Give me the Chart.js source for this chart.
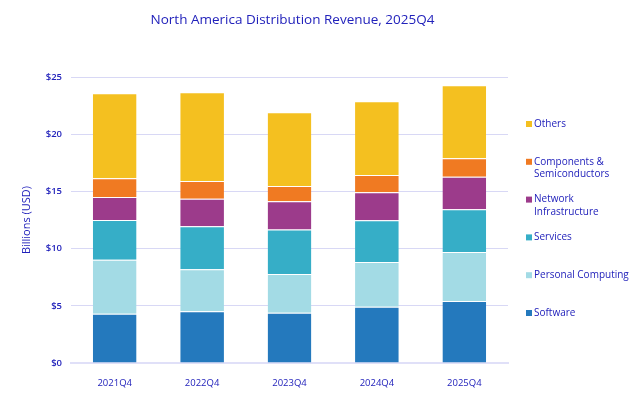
<!DOCTYPE html>
<html>
<head>
<meta charset="utf-8">
<script src="https://cdn.jsdelivr.net/npm/chart.js@4"></script>
<style>
  html, body { margin: 0; padding: 0; background: #fff; }
  #wrap { width: 639px; height: 411px; position: relative; }
</style>
</head>
<body>
<div id="wrap"><canvas id="barchart"></canvas></div>
<script>
// Data
var quarters = ['2021Q4', '2022Q4', '2023Q4', '2024Q4', '2025Q4'];
var software = [4.31, 4.52, 4.40, 4.92, 5.42];
var personalComputing = [4.72, 3.67, 3.38, 3.91, 4.28];
var services = [3.47, 3.76, 3.90, 3.64, 3.73];
var network = [2.01, 2.41, 2.45, 2.45, 2.86];
var components = [1.63, 1.55, 1.34, 1.51, 1.60];
var others = [7.43, 7.75, 6.44, 6.44, 6.38];
var yTicks = [0, 5, 10, 15, 20, 25];

var textColor = '#2222bb';
var font = '"Open Sans", "Noto Sans", sans-serif';

function ds(label, values, color) {
  return {
    label: label,
    data: values,
    backgroundColor: color,
    borderColor: 'rgba(255,255,255,0.35)',
    borderWidth: { top: 1 },
    borderSkipped: false,
    categoryPercentage: 1,
    barPercentage: 0.5
  };
}

var datasets = [
  ds('Software', software, '#2479bd'),
  ds('Personal Computing', personalComputing, '#a3dbe5'),
  ds('Services', services, '#36aec7'),
  ds('Network Infrastructure', network, '#9c3b8b'),
  ds('Components & Semiconductors', components, '#f07a22'),
  ds('Others', others, '#f4c020')
];

// legend lines (top to bottom)
var legendLines = [
  ['Others'],
  ['Components &', 'Semiconductors'],
  ['Network', 'Infrastructure'],
  ['Services'],
  ['Personal Computing'],
  ['Software']
];

var sidePlugin = {
  id: 'side',
  afterDraw: function (chart) {
    var ctx = chart.ctx;
    var area = chart.chartArea;
    ctx.save();
    // title
    ctx.fillStyle = textColor;
    ctx.font = '13.5px ' + font;
    ctx.textAlign = 'center';
    ctx.textBaseline = 'middle';
    ctx.fillText('North America Distribution Revenue, 2025Q4', (area.left + area.right) / 2 + 3, 20);
    // legend
    ctx.font = '10px ' + font;
    ctx.textAlign = 'left';
    var n = chart.data.datasets.length;
    for (var i = 0; i < legendLines.length; i++) {
      var y = 124 + i * 37.8;
      ctx.fillStyle = chart.data.datasets[n - 1 - i].backgroundColor;
      ctx.fillRect(526, y - 3, 6, 6);
      ctx.fillStyle = textColor;
      legendLines[i].forEach(function (line, k) {
        ctx.fillText(line, 534, y + k * 12.4);
      });
    }
    ctx.restore();
  }
};

var config = {
  type: 'bar',
  data: { labels: quarters, datasets: datasets },
  options: {
    responsive: true,
    maintainAspectRatio: false,
    animation: false,
    layout: { padding: { top: 77, right: 131, left: 20, bottom: 0 } },
    plugins: {
      legend: { display: false },
      title: { display: false },
      tooltip: { enabled: false }
    },
    scales: {
      x: {
        stacked: true,
        grid: { display: false },
        border: { color: '#e0e0f8', width: 2 },
        ticks: { color: textColor, font: { family: font, size: 9.5 }, padding: 7 },
        afterFit: function (scale) { scale.height = 48; }
      },
      y: {
        stacked: true,
        min: 0,
        max: 25,
        afterBuildTicks: function (scale) {
          scale.ticks = yTicks.map(function (v) { return { value: v }; });
        },
        grid: { color: '#d8d8f5', lineWidth: 1, drawTicks: false },
        border: { display: false },
        ticks: {
          color: textColor,
          font: { family: font, size: 9.5, weight: '600' },
          padding: 9,
          callback: function (v) { return '$' + v; }
        },
        title: {
          display: true,
          text: 'Billions (USD)',
          color: textColor,
          font: { family: font, size: 11 },
          padding: { top: 0, bottom: 4 }
        },
        afterFit: function (scale) { scale.width = 51; }
      }
    }
  },
  plugins: [sidePlugin]
};

var ctx = document.getElementById('barchart').getContext('2d');
new Chart(ctx, config);
</script>
</body>
</html>
